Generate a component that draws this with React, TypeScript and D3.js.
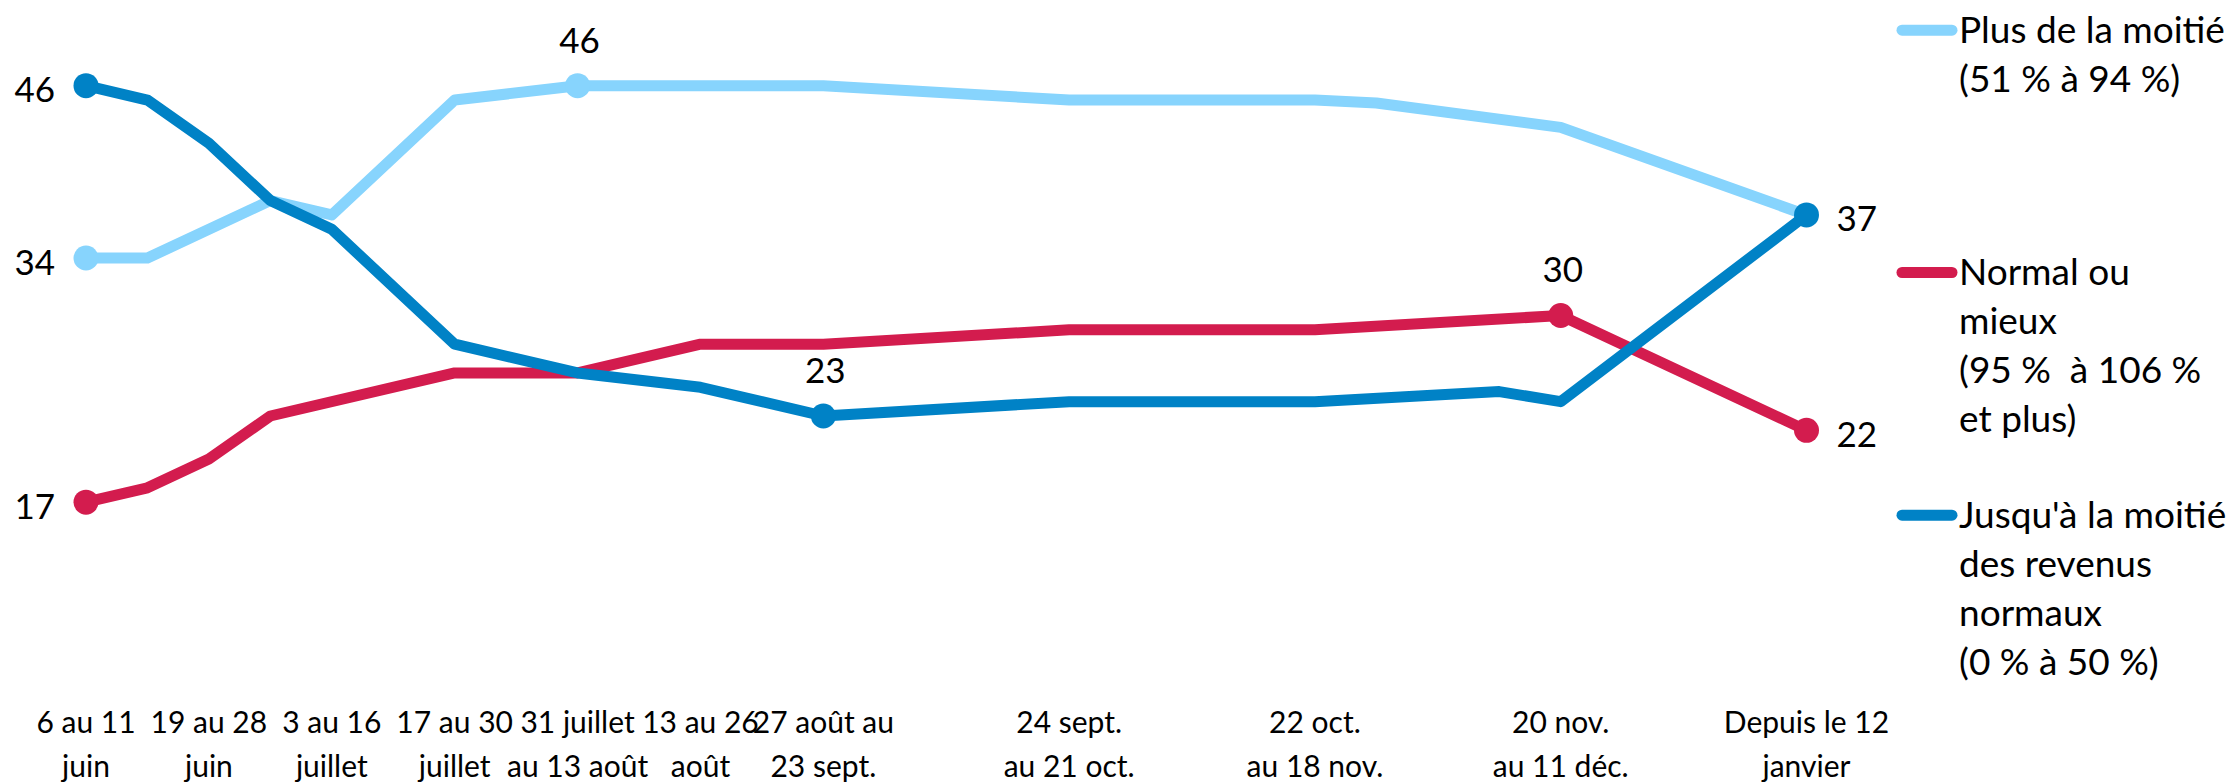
import React from "react";
import * as d3 from "d3";

// semaines (position sur l'axe) et étiquettes
const weeks = [0, 1, 2, 3, 4, 6, 8, 10, 12, 16, 20, 21, 23, 24, 28];
const tickWeeks = [0, 2, 4, 6, 8, 10, 12, 16, 20, 24, 28];
const tickLabels = [
  ["6 au 11", "juin"],
  ["19 au 28", "juin"],
  ["3 au 16", "juillet"],
  ["17 au 30", "juillet"],
  ["31 juillet", "au 13 août"],
  ["13 au 26", "août"],
  ["27 août au", "23 sept."],
  ["24 sept.", "au 21 oct."],
  ["22 oct.", "au 18 nov."],
  ["20 nov.", "au 11 déc."],
  ["Depuis le 12", "janvier"],
];

// valeurs (null = pas de point à cette semaine)
const plusMoitie = [34, 34, null, 38, 37, 45, 46, 46, 46, 45, 45, 44.8, null, 43.1, 37];
const normalMieux = [17, 18, 20, 23, null, 26, 26, 28, 28, 29, 29, null, null, 30, 22];
const jusquaMoitie = [46, 45, 42, 38, 36, 28, 26, 25, 23, 24, 24, null, 24.7, 24, 37];

const seriesNames = [
  ["Plus de la moitié", "(51 % à 94 %)"],
  ["Normal ou", "mieux", "(95 %  à 106 %", "et plus)"],
  ["Jusqu'à la moitié", "des revenus", "normaux", "(0 % à 50 %)"],
];
const colors = ["#87D4FD", "#D31C4E", "#0082C6"];

// étiquettes de valeurs : [série, index de semaine, position]
const valueLabels = [
  [2, 0, "left"],
  [0, 0, "left"],
  [1, 0, "left"],
  [0, 6, "top"],
  [2, 8, "top"],
  [1, 13, "top"],
  [2, 14, "right"],
  [1, 14, "right"],
];

const W = 2231;
const H = 782;

const App = () => {
  const svgRef = React.useRef(null);

  React.useEffect(() => {
    const x = d3.scaleLinear().domain([0, 28]).range([86, 1806.5]);
    const y = d3.scaleLinear().domain([0, 46]).range([746.3, 85.7]);
    const font = "Lato, 'Open Sans', sans-serif";

    const svg = d3.select(svgRef.current);
    svg.selectAll("*").remove();

    // axe X (texte seulement)
    const axis = svg.append("g");
    tickWeeks.forEach((w, i) => {
      const t = axis
        .append("text")
        .attr("x", x(w))
        .attr("y", 732.7)
        .attr("text-anchor", "middle")
        .attr("font-family", font)
        .attr("font-size", 30)
        .attr("fill", "#000");
      tickLabels[i].forEach((s, j) => {
        t.append("tspan").attr("x", x(w)).attr("dy", j === 0 ? 0 : 44).text(s);
      });
    });

    const all = [plusMoitie, normalMieux, jusquaMoitie];
    const line = d3
      .line()
      .x((d) => x(d[0]))
      .y((d) => y(d[1]));

    all.forEach((vals, k) => {
      const pts = weeks.map((w, i) => [w, vals[i]]).filter((d) => d[1] != null);
      svg
        .append("path")
        .attr("fill", "none")
        .attr("stroke", colors[k])
        .attr("stroke-width", 11)
        .attr("stroke-linejoin", "round")
        .attr("d", line(pts));
    });

    // marqueurs + valeurs
    valueLabels.forEach(([k, i, pos]) => {
      const cx = x(weeks[i]);
      const cy = y(all[k][i]);
      svg.append("circle").attr("cx", cx).attr("cy", cy).attr("r", 12.5).attr("fill", colors[k]);
      const t = svg
        .append("text")
        .attr("font-family", font)
        .attr("font-size", 35)
        .attr("fill", "#000")
        .text(d3.format("d")(all[k][i]));
      if (pos === "left") t.attr("x", cx - 31).attr("y", cy + 16.5).attr("text-anchor", "end");
      if (pos === "right") t.attr("x", cx + 30).attr("y", cy + 16.5).attr("text-anchor", "start");
      if (pos === "top") t.attr("x", cx + 2).attr("y", cy - 33).attr("text-anchor", "middle");
    });

    // légende
    const legendY = [42.7, 285, 527.7];
    seriesNames.forEach((lines, k) => {
      const g = svg.append("g");
      g.append("line")
        .attr("x1", 1902)
        .attr("x2", 1952)
        .attr("y1", legendY[k] - 12.5)
        .attr("y2", legendY[k] - 12.5)
        .attr("stroke", colors[k])
        .attr("stroke-width", 11)
        .attr("stroke-linecap", "round");
      const t = g
        .append("text")
        .attr("x", 1959)
        .attr("y", legendY[k])
        .attr("font-family", font)
        .attr("font-size", 37)
        .attr("fill", "#000")
        .style("white-space", "pre");
      lines.forEach((s, j) => {
        t.append("tspan").attr("x", 1959).attr("dy", j === 0 ? 0 : 49).text(s);
      });
    });
  }, []);

  return (
    <svg
      ref={svgRef}
      width={W}
      height={H}
      style={{ position: "absolute", left: 0, top: 0, background: "#fff" }}
    />
  );
};

export default App;
